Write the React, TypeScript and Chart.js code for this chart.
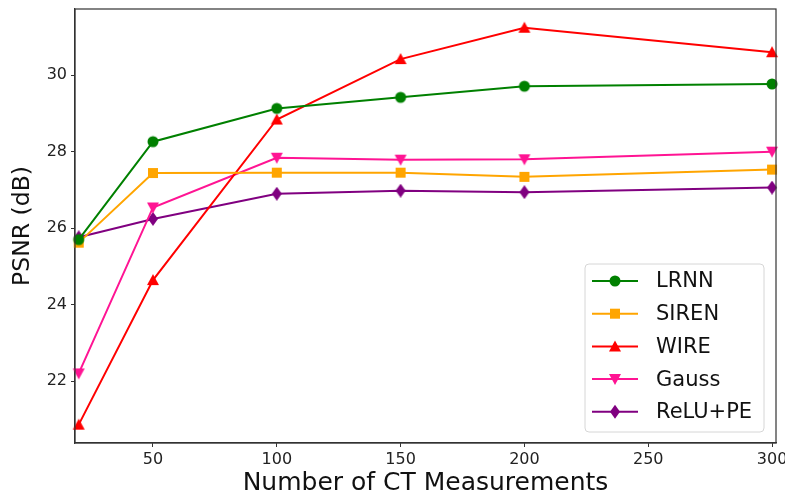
import React, { useEffect, useRef } from "react";
import { Chart, registerables } from "chart.js";

Chart.register(...registerables);

const xValues = [20, 50, 100, 150, 200, 300];
const xTicks = [50, 100, 150, 200, 250, 300];
const yTicks = [22, 24, 26, 28, 30];

const lrnn = [25.7, 28.26, 29.13, 29.42, 29.71, 29.77];
const siren = [25.62, 27.44, 27.45, 27.45, 27.34, 27.53];
const wire = [20.86, 24.64, 28.84, 30.42, 31.24, 30.6];
const gauss = [22.2, 26.54, 27.84, 27.79, 27.8, 28.0];
const relupe = [25.76, 26.24, 26.9, 26.98, 26.94, 27.06];

const seriesNames = ["LRNN", "SIREN", "WIRE", "Gauss", "ReLU+PE"];
const seriesColors = ["#008000", "#FFA500", "#FF0000", "#FF1493", "#800080"];
const markerKinds = ["circle", "square", "up", "down", "diamond"];

const FONT = "'DejaVu Sans', sans-serif";

function markerCanvas(kind: string, color: string): HTMLCanvasElement {
  const c = document.createElement("canvas");
  const s = 14;
  c.width = s;
  c.height = s;
  const g = c.getContext("2d")!;
  drawMarker(g, kind, s / 2, s / 2, color);
  return c;
}

function drawMarker(g: CanvasRenderingContext2D, kind: string, x: number, y: number, color: string) {
  g.save();
  g.fillStyle = color;
  g.beginPath();
  if (kind === "circle") {
    g.arc(x, y, 5.5, 0, Math.PI * 2);
  } else if (kind === "square") {
    g.rect(x - 5, y - 5, 10, 10);
  } else if (kind === "up") {
    g.moveTo(x, y - 6);
    g.lineTo(x + 6, y + 5);
    g.lineTo(x - 6, y + 5);
    g.closePath();
  } else if (kind === "down") {
    g.moveTo(x, y + 6);
    g.lineTo(x + 6, y - 5);
    g.lineTo(x - 6, y - 5);
    g.closePath();
  } else {
    g.moveTo(x, y - 7);
    g.lineTo(x + 5, y);
    g.lineTo(x, y + 7);
    g.lineTo(x - 5, y);
    g.closePath();
  }
  g.fill();
  g.restore();
}

export default function App() {
  const ref = useRef<HTMLCanvasElement>(null);
  useEffect(() => {
    document.body.style.margin = "0";
    const all = [lrnn, siren, wire, gauss, relupe];

    const datasets = all.map((vals, i) => ({
      label: seriesNames[i],
      data: vals.map((v, j) => ({ x: xValues[j], y: v })),
      borderColor: seriesColors[i],
      backgroundColor: seriesColors[i],
      pointStyle: markerCanvas(markerKinds[i], seriesColors[i]) as any,
      pointRadius: 7,
      borderWidth: 2,
      tension: 0,
      clip: false as any,
    }));

    const framePlugin = {
      id: "frame",
      afterDatasetsDraw(chart: any) {
        const { ctx, chartArea: a } = chart;
        ctx.save();
        ctx.strokeStyle = "#333333";
        ctx.lineWidth = 1.2;
        ctx.strokeRect(a.left, a.top, a.right - a.left, a.bottom - a.top);
        const w = 179, h = 168;
        const x0 = a.right - 12 - w;
        const y0 = a.bottom - 11 - h;
        ctx.fillStyle = "rgba(255,255,255,0.8)";
        ctx.strokeStyle = "#d6d6d6";
        ctx.lineWidth = 1;
        const r = 4;
        ctx.beginPath();
        ctx.moveTo(x0 + r, y0);
        ctx.lineTo(x0 + w - r, y0);
        ctx.arcTo(x0 + w, y0, x0 + w, y0 + r, r);
        ctx.lineTo(x0 + w, y0 + h - r);
        ctx.arcTo(x0 + w, y0 + h, x0 + w - r, y0 + h, r);
        ctx.lineTo(x0 + r, y0 + h);
        ctx.arcTo(x0, y0 + h, x0, y0 + h - r, r);
        ctx.lineTo(x0, y0 + r);
        ctx.arcTo(x0, y0, x0 + r, y0, r);
        ctx.closePath();
        ctx.fill();
        ctx.stroke();
        for (let i = 0; i < seriesNames.length; i++) {
          const yy = y0 + 17 + i * 32.7;
          ctx.strokeStyle = seriesColors[i];
          ctx.lineWidth = 2;
          ctx.beginPath();
          ctx.moveTo(x0 + 7, yy);
          ctx.lineTo(x0 + 53, yy);
          ctx.stroke();
          drawMarker(ctx, markerKinds[i], x0 + 30, yy, seriesColors[i]);
          ctx.fillStyle = "#111111";
          ctx.font = `21px ${FONT}`;
          ctx.textAlign = "left";
          ctx.textBaseline = "middle";
          ctx.fillText(seriesNames[i], x0 + 71, yy + 1);
        }
        ctx.restore();
      },
    };

    const chart = new Chart(ref.current!, {
      type: "line",
      data: { datasets },
      options: {
        animation: false,
        responsive: false,
        maintainAspectRatio: false,
        layout: { padding: { left: 0, right: 9, top: 9, bottom: 0 } },
        plugins: {
          legend: { display: false },
          tooltip: { enabled: false },
        },
        scales: {
          x: {
            type: "linear",
            min: 18.5,
            max: 301.6,
            afterBuildTicks: (s: any) => {
              s.ticks = xTicks.map((v) => ({ value: v }));
            },
            afterFit: (s: any) => {
              s.height = 55;
              s.paddingLeft = 0;
              s.paddingRight = 0;
            },
            grid: {
              drawOnChartArea: false,
              drawTicks: true,
              tickLength: 4,
              color: "#333333",
            },
            border: { display: true, color: "#333333", width: 1.2 },
            ticks: {
              color: "#222222",
              font: { family: FONT, size: 16 },
              padding: 3,
              maxRotation: 0,
              autoSkip: false,
            },
            title: {
              display: true,
              text: "Number of CT Measurements",
              color: "#111111",
              font: { family: FONT, size: 25 },
              padding: { top: 0, bottom: 0 },
            },
          },
          y: {
            type: "linear",
            min: 20.38,
            max: 31.73,
            afterBuildTicks: (s: any) => {
              s.ticks = yTicks.map((v) => ({ value: v }));
            },
            afterFit: (s: any) => {
              s.width = 75;
              s.paddingTop = 0;
              s.paddingBottom = 0;
            },
            grid: {
              drawOnChartArea: false,
              drawTicks: true,
              tickLength: 4,
              color: "#333333",
            },
            border: { display: true, color: "#333333", width: 1.2 },
            ticks: {
              color: "#222222",
              font: { family: FONT, size: 16 },
              padding: 4,
            },
            title: {
              display: true,
              text: "PSNR (dB)",
              color: "#111111",
              font: { family: FONT, size: 23.5 },
              padding: { top: 9, bottom: 0 },
            },
          },
        },
      },
      plugins: [framePlugin],
    });
    return () => chart.destroy();
  }, []);
  return <canvas ref={ref} width={785} height={498} style={{ display: "block" }} />;
}
